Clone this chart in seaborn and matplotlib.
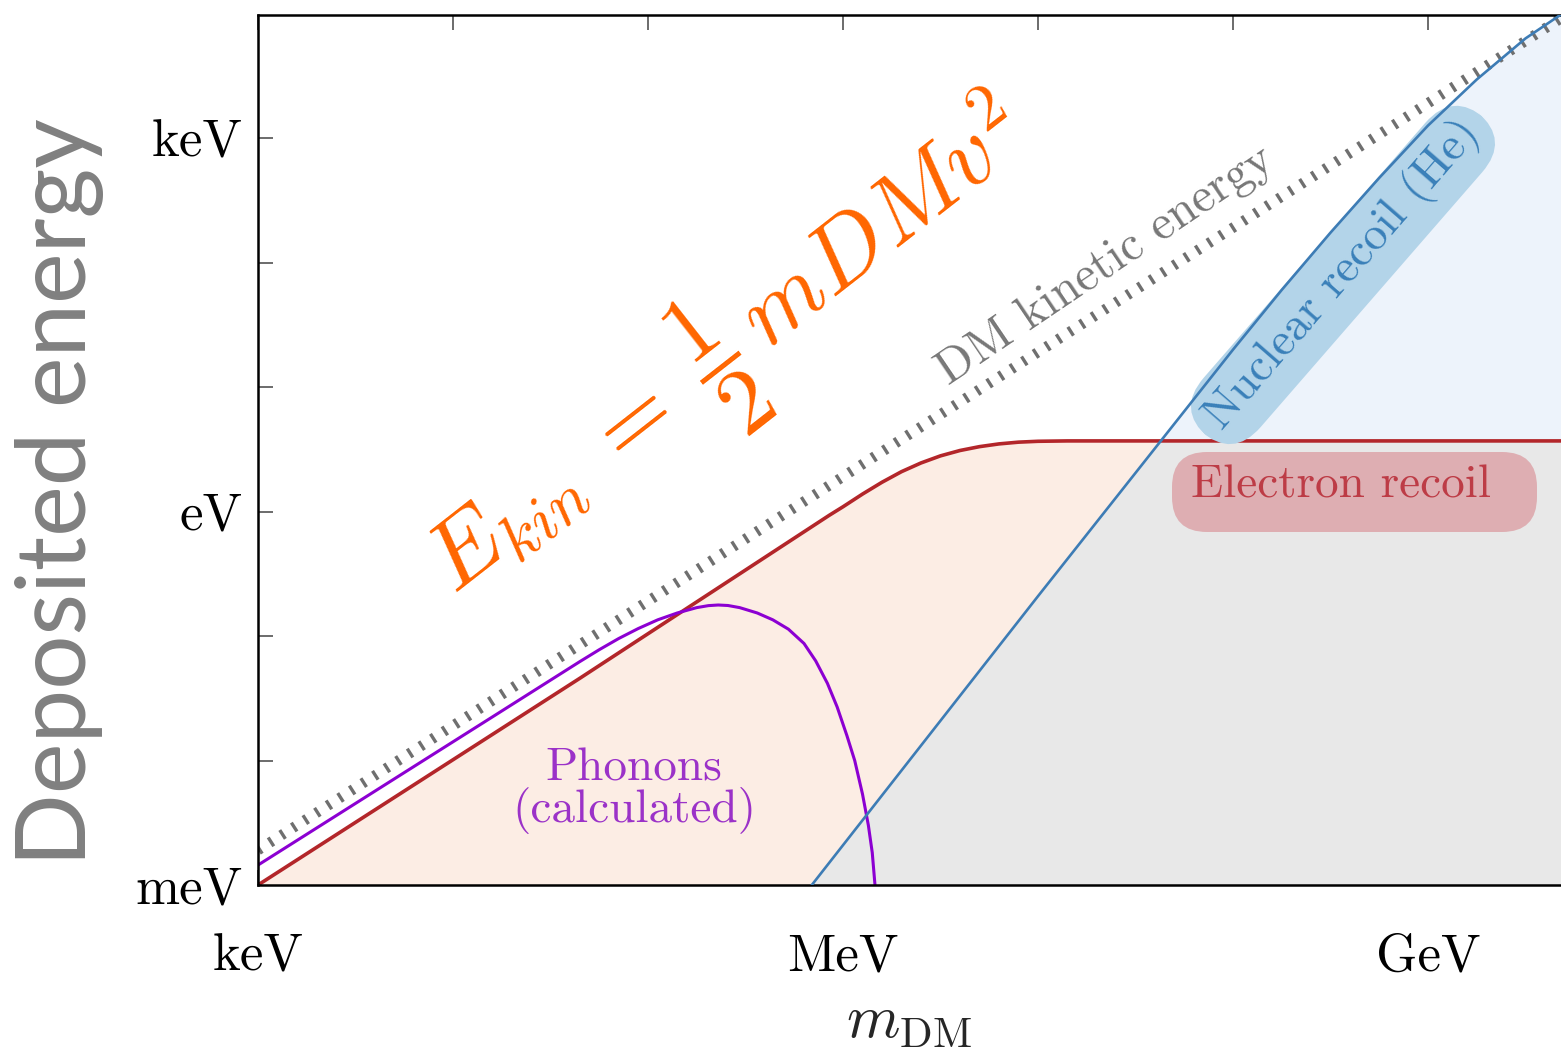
import numpy as np
import pandas as pd
import seaborn as sns
import matplotlib.pyplot as plt
from matplotlib.patches import FancyBboxPatch

# ------------------------------------------------------------
# values, as log10(eV)
# ------------------------------------------------------------
kin_logm = [3.0, 9.7]
kin_logE = [-2.72, 3.98]

elec_logm = [3.0, 4.65, 5.93, 6.0, 6.1, 6.2, 6.3, 6.4, 6.5, 6.6, 6.7, 6.8, 6.9, 7.0, 7.15, 9.7]
elec_logE = [-3.0, -1.34, -0.03, 0.038, 0.14, 0.235, 0.32, 0.39, 0.447, 0.49, 0.521, 0.543,
             0.557, 0.564, 0.567, 0.567]

nuc_logm = [5.84, 7.0, 8.0, 8.25, 8.5, 8.75, 9.0, 9.25, 9.5, 9.68]
nuc_logE = [-3.0, -0.68, 1.30, 1.78, 2.24, 2.68, 3.10, 3.47, 3.80, 3.99]

phon_logm = [3.0, 3.63, 4.2, 4.65, 4.75, 4.85, 4.95, 5.05, 5.15, 5.25, 5.31, 5.36, 5.41,
             5.47, 5.56, 5.64, 5.72, 5.80, 5.86, 5.92, 5.97, 6.02, 6.06, 6.10, 6.13,
             6.15, 6.164]
phon_logE = [-2.84, -2.216, -1.652, -1.206, -1.11, -1.02, -0.94, -0.87, -0.815, -0.772,
             -0.756, -0.751, -0.755, -0.772, -0.815, -0.87, -0.945, -1.06, -1.20, -1.38,
             -1.57, -1.80, -2.0, -2.27, -2.52, -2.74, -3.0]

x_ticks = [3, 4, 5, 6, 7, 8, 9]
x_labels = ["keV", "", "", "MeV", "", "", "GeV"]
y_ticks = [-3, -2, -1, 0, 1, 2, 3]
y_labels = ["meV", "", "", "eV", "", "", "keV"]

def curve(logm, logE):
    return pd.DataFrame({"m": 10 ** np.array(logm), "E": 10 ** np.array(logE)})

kin = curve(kin_logm, kin_logE)
elec = curve(elec_logm, elec_logE)
nuc = curve(nuc_logm, nuc_logE)
phon = curve(phon_logm, phon_logE)

sns.set_theme(style="ticks")
plt.rcParams["font.family"] = ["cmr10", "DejaVu Serif"]
plt.rcParams["mathtext.fontset"] = "cm"
plt.rcParams["axes.unicode_minus"] = False

fig = plt.figure(figsize=(15.61, 10.52), dpi=100)
ax = fig.add_axes([258 / 1561, 167 / 1052, 1303 / 1561, 870 / 1052])
ax.set_xscale("log")
ax.set_yscale("log")
ax.set_xlim(1e3, 10 ** 9.682)
ax.set_ylim(1e-3, 10 ** 3.988)

# filled regions
peach = ax.fill_between(elec.m, 1e-3, elec.E, color="#fcede4", lw=0, zorder=1)
ax.fill_between(nuc.m, 1e-3, nuc.E, color="#edf3fb", lw=0, zorder=1)
grey = ax.fill_between(nuc.m, 1e-3, nuc.E, color="#e8e8e8", lw=0, zorder=1.1)
grey.set_clip_path(peach.get_paths()[0], ax.transData)

# lines
sns.lineplot(data=kin, x="m", y="E", ax=ax, color="#6f6f6f", lw=7.5, sort=False, estimator=None)
ax.lines[-1].set_linestyle((0, (0.32, 1.0)))
ax.lines[-1].set_dash_capstyle("butt")
sns.lineplot(data=elec, x="m", y="E", ax=ax, color="#b3262a", lw=2.6, sort=False, estimator=None)
sns.lineplot(data=phon, x="m", y="E", ax=ax, color="#8c00d2", lw=2.2, sort=False, estimator=None)
sns.lineplot(data=nuc, x="m", y="E", ax=ax, color="#3d7cb5", lw=1.9, sort=False, estimator=None, zorder=5)

# labels on the plot
ax.text(10 ** 5.43, 10 ** 1.27, r"$E_{kin}\;=\;\dfrac{1}{2}\,mDMv^2$", color="#ff6600",
        fontsize=68, rotation=38, ha="center", va="center", rotation_mode="anchor")
ax.text(10 ** 7.344, 10 ** 1.98, "DM kinetic energy", color="#777777", fontsize=35,
        rotation=34, ha="center", va="center", rotation_mode="anchor")
ax.text(10 ** 8.564, 10 ** 1.90, "Nuclear recoil (He)", color="#3a80b9", fontsize=34,
        rotation=49, ha="center", va="center", rotation_mode="anchor", zorder=4,
        bbox=dict(boxstyle="round,pad=0.3,rounding_size=0.9", fc="#b3d4e9", ec="none"))
ax.add_patch(FancyBboxPatch((11.72, 5.20), 3.65, 0.80, boxstyle="round,pad=0,rounding_size=0.35",
                            transform=fig.dpi_scale_trans, fc="#deaeb2", ec="none", zorder=3))
ax.text(10 ** 8.554, 10 ** 0.116, "Electron recoil", color="#bd3c46", fontsize=34,
        ha="center", va="baseline", zorder=4)
ax.text(10 ** 4.928, 10 ** -2.157, "Phonons", color="#9b32c8", fontsize=34, ha="center", va="baseline")
ax.text(10 ** 4.928, 10 ** -2.494, "(calculated)", color="#9b32c8", fontsize=34, ha="center", va="baseline")

# axes styling
ax.set_xticks([10.0 ** t for t in x_ticks])
ax.set_xticklabels(x_labels)
ax.set_yticks([10.0 ** t for t in y_ticks])
ax.set_yticklabels(y_labels)
ax.minorticks_off()
ax.tick_params(direction="in", length=11, width=1.1, color="#444444", top=True, right=True,
               labelsize=38, labelcolor="black")
ax.tick_params(axis="x", pad=35)
ax.tick_params(axis="y", pad=11)
for side in ["left", "top", "bottom"]:
    ax.spines[side].set_color("black")
    ax.spines[side].set_linewidth(1.8)
ax.spines["right"].set_visible(False)

ax.set_xlabel(r"$m_{\rm DM}$", fontsize=44, labelpad=10)
ax.set_ylabel("")
fig.text(60 / 1561, 1 - 492 / 1052, "Deposited energy", family="Lato", fontsize=69,
         color="#808080", rotation=90, ha="center", va="center")

fig.savefig("out.png", dpi=100)
